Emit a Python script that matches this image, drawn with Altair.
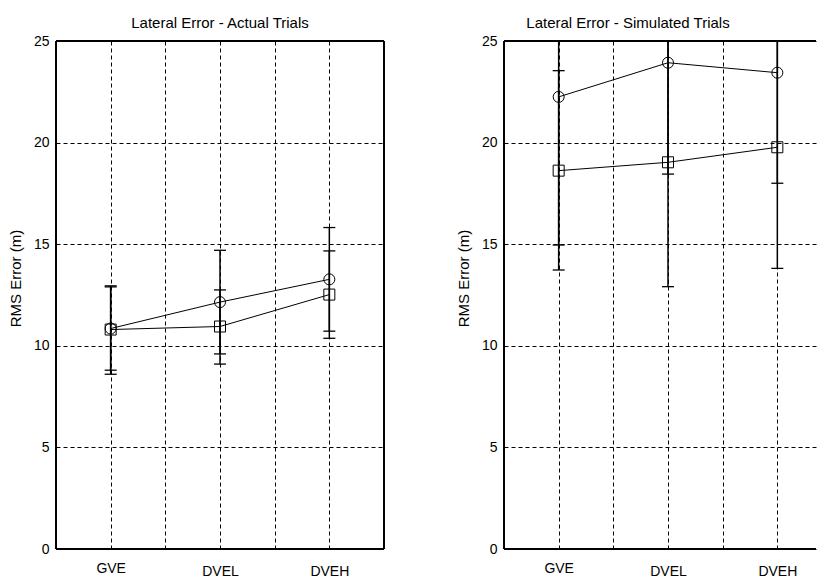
import altair as alt
import pandas as pd

categories = ["GVE", "DVEL", "DVEH"]

# Actual trials (circle series / square series)
actual_circle_mean = [10.85, 12.15, 13.27]
actual_circle_lo = [8.80, 9.60, 10.72]
actual_circle_hi = [12.90, 14.70, 15.82]
actual_square_mean = [10.80, 10.95, 12.52]
actual_square_lo = [8.60, 9.10, 10.37]
actual_square_hi = [12.95, 12.75, 14.67]

# Simulated trials
sim_circle_mean = [22.25, 23.93, 23.44]
sim_circle_lo = [14.96, 18.45, 18.00]
sim_circle_hi = [29.50, 29.40, 28.90]
sim_square_mean = [18.62, 19.03, 19.77]
sim_square_lo = [13.73, 12.91, 13.81]
sim_square_hi = [23.54, 25.15, 25.70]

y_ticks = [0, 5, 10, 15, 20, 25]
x_grid = [1, 1.5, 2, 2.5, 3]

H = 508
W_LEFT = 328
W_RIGHT = 312          # right panel runs off the page edge in the original
PX_PER_UNIT = W_LEFT / 3.0


def build_df(c_mean, c_lo, c_hi, s_mean, s_lo, s_hi):
    rows = []
    for i, cat in enumerate(categories):
        rows.append(dict(cat=cat, x=i + 1, series="circle", mean=c_mean[i], lo=c_lo[i], hi=c_hi[i]))
        rows.append(dict(cat=cat, x=i + 1, series="square", mean=s_mean[i], lo=s_lo[i], hi=s_hi[i]))
    return pd.DataFrame(rows)


label_expr = ("datum.value == 1 ? 'GVE' : datum.value == 2 ? 'DVEL' : "
              "datum.value == 3 ? 'DVEH' : ''")


def panel(df, title, width, full_border, title_dx):
    xmax = 0.5 + width / PX_PER_UNIT
    xenc = alt.X("x:Q", scale=alt.Scale(domain=[0.5, xmax], nice=False, zero=False),
                 axis=alt.Axis(values=x_grid, labelExpr=label_expr, title=None,
                               ticks=False, domain=False,
                               labelPadding={"condition": {"test": "datum.value == 1", "value": 12},
                                             "value": 15},
                               labelFlush=False))
    yscale = alt.Scale(domain=[0, 25], nice=False, zero=True)
    yaxis = alt.Axis(values=y_ticks, title="RMS Error  (m)", ticks=False, domain=False,
                     labelPadding=7, titlePadding=10, titleY=237)
    base = alt.Chart(df).encode(x=xenc)
    bars = base.mark_rule(color="black", strokeWidth=1.5, clip=True).encode(
        y=alt.Y("lo:Q", scale=yscale, axis=yaxis), y2="hi:Q")
    cap_lo = base.mark_rule(color="black", strokeWidth=1.3, xOffset=-6, x2Offset=6, clip=True).encode(
        x2="x:Q", y=alt.Y("lo:Q", scale=yscale))
    cap_hi = base.mark_rule(color="black", strokeWidth=1.3, xOffset=-6, x2Offset=6, clip=True).encode(
        x2="x:Q", y=alt.Y("hi:Q", scale=yscale))
    lines = base.mark_line(color="black", strokeWidth=1, clip=True).encode(
        y=alt.Y("mean:Q", scale=yscale), detail="series:N")
    pts = base.mark_point(filled=False, color="black", size=121, strokeWidth=1, opacity=1, clip=True).encode(
        y=alt.Y("mean:Q", scale=yscale),
        shape=alt.Shape("series:N", scale=alt.Scale(domain=["circle", "square"], range=["circle", "square"]),
                        legend=None))
    layers = [bars, cap_lo, cap_hi, lines, pts]
    one = pd.DataFrame({"k": [0]})
    edge = alt.Chart(one).mark_rule(color="black", strokeWidth=2)
    layers += [
        edge.encode(x=alt.value(0), y=alt.value(0), y2=alt.value(H)),
        edge.encode(x=alt.value(0), x2=alt.value(width), y=alt.value(0)),
        edge.encode(x=alt.value(0), x2=alt.value(width), y=alt.value(H)),
    ]
    if full_border:
        layers.append(edge.encode(x=alt.value(width), y=alt.value(0), y2=alt.value(H)))
    return alt.layer(*layers).properties(
        width=width, height=H,
        title=alt.TitleParams(title, fontSize=15, fontWeight="normal", color="black", offset=3,
                              dx=title_dx, font="Liberation Sans"))


left = panel(build_df(actual_circle_mean, actual_circle_lo, actual_circle_hi,
                      actual_square_mean, actual_square_lo, actual_square_hi),
             "Lateral Error - Actual Trials", W_LEFT, True, 0)
right = panel(build_df(sim_circle_mean, sim_circle_lo, sim_circle_hi,
                       sim_square_mean, sim_square_lo, sim_square_hi),
              "Lateral Error - Simulated Trials", W_RIGHT, False, -32)

chart = alt.hconcat(left, right, spacing=71).properties(
    padding={"left": 0, "top": 8, "right": 0, "bottom": 0},
    background="white",
).configure(font="Liberation Sans").configure_view(
    stroke="transparent", strokeWidth=0
).configure_axis(
    grid=True, gridColor="black", gridDash=[4, 3], gridWidth=1, gridOpacity=1,
    labelFontSize=14, labelColor="black", labelFont="Liberation Sans",
    titleFontSize=15, titleFontWeight="normal", titleColor="black", titleFont="Liberation Sans"
)

chart.save("out.html", embed_options={"renderer": "svg", "actions": False})
